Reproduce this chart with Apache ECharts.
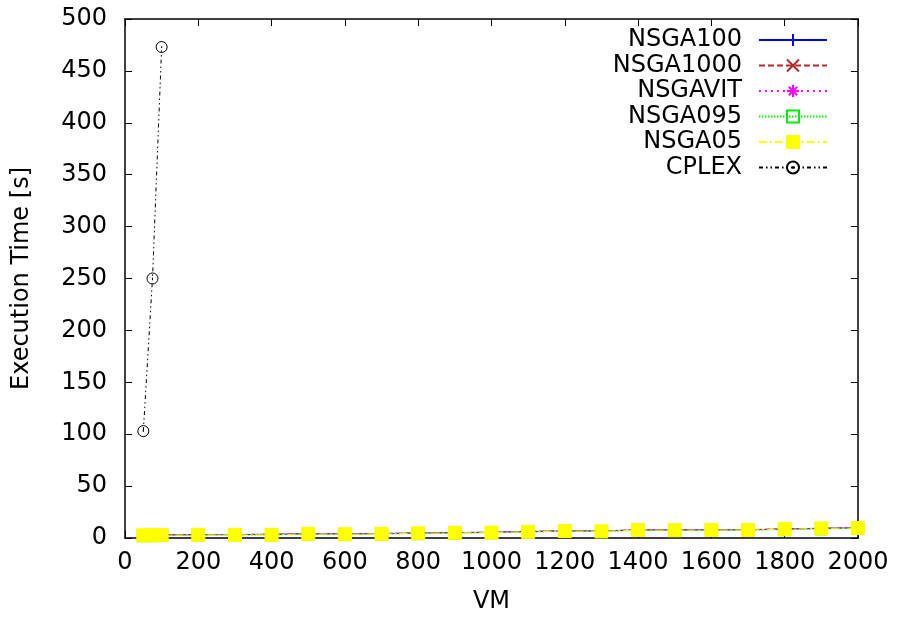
<!DOCTYPE html>
<html>
<head>
<meta charset="utf-8">
<script src="https://cdn.jsdelivr.net/npm/echarts@6/dist/echarts.min.js"></script>
<style>
  html, body { margin: 0; padding: 0; background: #fff; }
  #chart { width: 899px; height: 619px; }
</style>
</head>
<body>
<div id="chart"></div>
<script>
// VM counts on the x axis
var vmNsga = [50, 75, 100, 200, 300, 400, 500, 600, 700, 800, 900, 1000,
              1100, 1200, 1300, 1400, 1500, 1600, 1700, 1800, 1900, 2000];
var vmCplex = [50, 75, 100];

// execution times in seconds
var nsga100  = [2.8, 2.9, 3.0, 3.2, 3.3, 3.5, 4.1, 3.9, 4.3, 4.7, 5.2, 5.5, 6.2, 6.8, 6.7, 7.8, 7.7, 7.9, 7.9, 8.6, 9.3, 9.8];
var nsga1000 = [3.0, 3.1, 3.2, 3.4, 3.4, 3.6, 4.3, 4.0, 4.4, 4.9, 5.3, 5.6, 6.4, 6.9, 6.8, 8.0, 7.9, 8.0, 8.1, 8.8, 9.4, 10.0];
var nsgaVit  = [2.9, 3.0, 3.1, 3.3, 3.4, 3.6, 4.2, 4.0, 4.3, 4.8, 5.2, 5.5, 6.3, 6.8, 6.7, 7.9, 7.8, 8.0, 8.0, 8.7, 9.3, 9.9];
var nsga095  = [2.2, 2.3, 2.4, 2.7, 2.8, 2.9, 3.6, 3.4, 3.8, 4.2, 4.6, 5.0, 5.6, 6.4, 6.1, 7.3, 7.2, 7.4, 7.5, 8.0, 8.8, 9.3];
var nsga05   = [2.6, 2.6, 2.7, 3.0, 3.0, 3.1, 4.0, 3.6, 4.0, 4.5, 5.0, 5.2, 6.0, 6.7, 6.4, 7.7, 7.5, 7.7, 7.7, 8.5, 9.2, 9.6];
var cplex    = [103, 250, 473];

var FONT = 'DejaVu Sans';
var FS = 24;

function pairs(xs, ys) {
    return xs.map(function (x, i) { return [x, ys[i]]; });
}

// gnuplot point types as stroked paths
var plusPath  = 'path://M0,5L10,5M5,0L5,10';
var crossPath = 'path://M0,0L10,10M10,0L0,10';
var starPath  = 'path://M0,5L10,5M5,0L5,10M1.5,1.5L8.5,8.5M8.5,1.5L1.5,8.5';
var circlePath = 'path://M10,0A10,10,0,1,1,10,20A10,10,0,1,1,10,0ZM10,8.5L10,11.5';

function lineSeries(name, xs, ys, color, dash, symbol, size, fill) {
    return {
        name: name,
        type: 'line',
        data: pairs(xs, ys),
        symbol: symbol,
        symbolSize: size,
        showAllSymbol: true,
        animation: false,
        lineStyle: { color: color, width: 1, type: dash },
        itemStyle: { color: fill, borderColor: color, borderWidth: 1 },
        emphasis: { disabled: true }
    };
}

var chart = echarts.init(document.getElementById('chart'));

var axisLineStyle = { show: true, onZero: false, lineStyle: { color: '#000', width: 1.5 } };
var tickStyle = { show: true, inside: true, length: 7, lineStyle: { color: '#000', width: 1 } };
var plain = function (v) { return String(v); };

var option = {
    backgroundColor: '#fff',
    animation: false,
    grid: { left: 125, top: 19, right: 41, bottom: 80 },
    legend: {
        orient: 'vertical',
        align: 'right',
        right: 71,
        top: 28,
        padding: 0,
        itemWidth: 68,
        itemHeight: 15,
        itemGap: 1.5,
        textStyle: { fontFamily: FONT, fontSize: FS, color: '#000', lineHeight: 20, padding: [0, 12, 0, 0] },
        data: ['NSGA100', 'NSGA1000', 'NSGAVIT', 'NSGA095', 'NSGA05', 'CPLEX']
    },
    xAxis: [{
        type: 'value',
        min: 0, max: 2000, interval: 200,
        name: 'VM',
        nameLocation: 'middle',
        nameGap: 52,
        nameTextStyle: { fontFamily: FONT, fontSize: FS, color: '#000' },
        axisLine: axisLineStyle,
        axisTick: tickStyle,
        splitLine: { show: false },
        axisLabel: { fontFamily: FONT, fontSize: FS, color: '#000', margin: 13, formatter: plain }
    }, {
        type: 'value',
        position: 'top',
        min: 0, max: 2000, interval: 200,
        axisLine: axisLineStyle,
        axisTick: tickStyle,
        splitLine: { show: false },
        axisLabel: { show: false }
    }],
    yAxis: [{
        type: 'value',
        min: 0, max: 500, interval: 50,
        name: 'Execution Time [s]',
        nameLocation: 'middle',
        nameGap: 91,
        nameTextStyle: { fontFamily: FONT, fontSize: FS, color: '#000' },
        axisLine: axisLineStyle,
        axisTick: tickStyle,
        splitLine: { show: false },
        axisLabel: { fontFamily: FONT, fontSize: FS, color: '#000', margin: 18, formatter: plain }
    }, {
        type: 'value',
        position: 'right',
        min: 0, max: 500, interval: 50,
        axisLine: axisLineStyle,
        axisTick: tickStyle,
        splitLine: { show: false },
        axisLabel: { show: false }
    }],
    series: [
        lineSeries('NSGA100', vmNsga, nsga100, '#0000ff', 'solid', plusPath, 12, '#0000ff'),
        lineSeries('NSGA1000', vmNsga, nsga1000, '#b22a2a', [6, 3], crossPath, 12, '#b22a2a'),
        lineSeries('NSGAVIT', vmNsga, nsgaVit, '#ff00ff', [2, 4], starPath, 12, '#ff00ff'),
        lineSeries('NSGA095', vmNsga, nsga095, '#00ee00', [1.5, 1.5], 'rect', 12, 'rgba(255,255,255,0)'),
        lineSeries('NSGA05', vmNsga, nsga05, '#ffff00', [8, 3, 2, 3], 'rect', 13, '#ffff00'),
        lineSeries('CPLEX', vmCplex, cplex, '#000000', [4, 3, 1.5, 3, 1.5, 3], circlePath, 11, 'rgba(0,0,0,0)')
    ]
};

chart.setOption(option);
</script>
</body>
</html>
